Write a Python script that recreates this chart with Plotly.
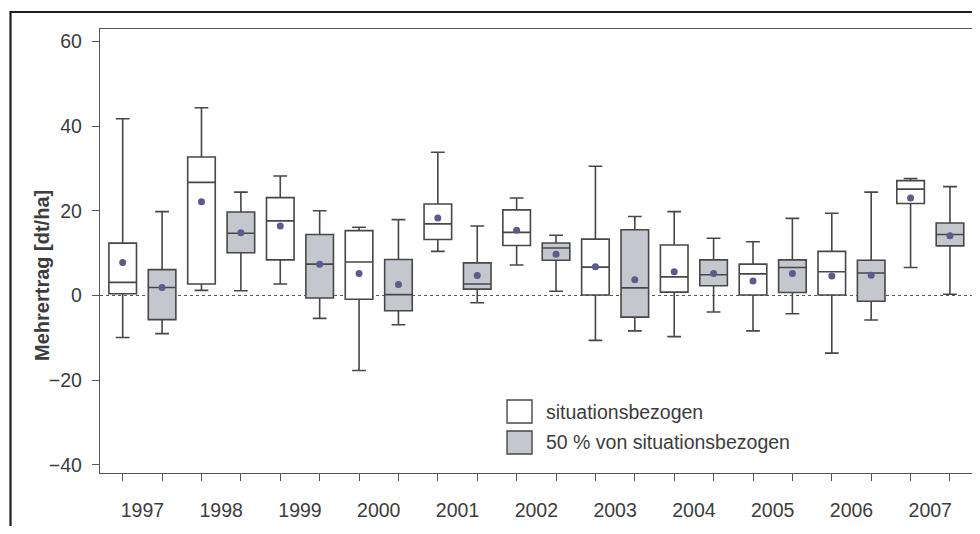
import plotly.graph_objects as go

years = ["1997", "1998", "1999", "2000", "2001", "2002", "2003", "2004", "2005", "2006", "2007"]

# situationsbezogen
sit_low = [-9.9, 1.2, 2.7, -17.7, 10.4, 7.2, -10.6, -9.7, -8.35, -13.6, 6.6]
sit_q1 = [0.4, 2.7, 8.4, -0.9, 13.2, 11.8, 0.1, 0.8, 0.1, 0.1, 21.7]
sit_med = [3.1, 26.7, 17.6, 7.9, 16.9, 14.9, 6.7, 4.4, 5.1, 5.6, 25.1]
sit_q3 = [12.35, 32.7, 23.1, 15.3, 21.6, 20.2, 13.3, 11.9, 7.4, 10.4, 27.1]
sit_high = [41.7, 44.3, 28.2, 16.1, 33.8, 23.0, 30.5, 19.8, 12.7, 19.4, 27.6]
sit_mean = [7.8, 22.1, 16.4, 5.2, 18.3, 15.4, 6.8, 5.6, 3.4, 4.6, 23.0]

# 50 % von situationsbezogen
half_low = [-9.0, 1.1, -5.4, -6.9, -1.7, 1.0, -8.35, -3.9, -4.3, -5.8, 0.3]
half_q1 = [-5.7, 10.1, -0.6, -3.6, 1.5, 8.3, -5.1, 2.3, 0.7, -1.35, 11.7]
half_med = [1.9, 14.7, 7.4, 0.2, 2.7, 11.2, 1.8, 4.9, 6.6, 5.3, 14.4]
half_q3 = [6.1, 19.7, 14.4, 8.5, 7.7, 12.4, 15.5, 8.4, 8.4, 8.3, 17.1]
half_high = [19.8, 24.4, 20.0, 17.9, 16.4, 14.2, 18.65, 13.5, 18.2, 24.4, 25.7]
half_mean = [1.9, 14.8, 7.4, 2.6, 4.7, 9.75, 3.7, 5.2, 5.2, 4.8, 14.1]

series_names = ["situationsbezogen", "50 % von situationsbezogen"]
y_title = "Mehrertrag [dt/ha]"

n = len(years)
x_sit = [2 * i for i in range(n)]
x_half = [2 * i + 1 for i in range(n)]

LINE = "#474747"
FILL = "#c4c7ce"
DOT = "#5b5b8c"
TXT = "#3c3c3c"
FONT = "Liberation Sans, Arial, sans-serif"
FS = 19.5

fig = go.Figure()

for xs, lo, q1, med, q3, hi, fill, name in [
    (x_sit, sit_low, sit_q1, sit_med, sit_q3, sit_high, "white", series_names[0]),
    (x_half, half_low, half_q1, half_med, half_q3, half_high, FILL, series_names[1]),
]:
    fig.add_trace(go.Box(
        x=xs, q1=q1, median=med, q3=q3, lowerfence=lo, upperfence=hi,
        name=name, fillcolor=fill, line=dict(color=LINE, width=1.6),
        width=0.7, whiskerwidth=0.5, boxpoints=False, showlegend=False,
    ))

for xs, mean in [(x_sit, sit_mean), (x_half, half_mean)]:
    fig.add_trace(go.Scatter(
        x=xs, y=mean, mode="markers", showlegend=False,
        marker=dict(color=DOT, size=7, line=dict(width=0)),
    ))

# zero reference line
fig.add_hline(y=0, line=dict(color="#555555", width=1, dash="3px,3px"), layer="below")

shapes = []
# outer frame
shapes.append(dict(type="rect", xref="paper", yref="paper",
                   x0=-0.1024, x1=1.2, y0=-0.5, y1=1.0383,
                   line=dict(color="#1e1e1e", width=2.2), fillcolor="rgba(0,0,0,0)", layer="below"))
# legend squares
shapes.append(dict(type="rect", xref="paper", yref="paper",
                   x0=0.4657, x1=0.4943, y0=0.1126, y1=0.1644,
                   line=dict(color=LINE, width=1.4), fillcolor="white"))
shapes.append(dict(type="rect", xref="paper", yref="paper",
                   x0=0.4657, x1=0.4943, y0=0.0428, y1=0.0946,
                   line=dict(color=LINE, width=1.4), fillcolor=FILL))
for s in shapes:
    fig.add_shape(**s)

fig.add_annotation(xref="paper", yref="paper", x=0.5085, y=0.1385, text=series_names[0],
                   showarrow=False, xanchor="left", yanchor="middle",
                   font=dict(family=FONT, size=FS, color=TXT))
fig.add_annotation(xref="paper", yref="paper", x=0.5085, y=0.0687, text=series_names[1],
                   showarrow=False, xanchor="left", yanchor="middle",
                   font=dict(family=FONT, size=FS, color=TXT))
# y axis title
fig.add_annotation(xref="paper", yref="paper", x=-0.0664, y=0.446, text="<b>" + y_title + "</b>",
                   showarrow=False, xanchor="center", yanchor="middle", textangle=-90,
                   font=dict(family=FONT, size=20, color=TXT))

# The page body has an 8px default margin, so the figure is shrunk by it.
fig.update_layout(
    width=972, height=518,
    margin=dict(l=92, r=6, t=21, b=53),
    paper_bgcolor="white", plot_bgcolor="white",
    boxmode="overlay",
    font=dict(family=FONT, size=FS, color=TXT),
    xaxis=dict(
        range=[-0.576, 21.61],
        tickvals=[2 * i + 0.5 for i in range(n)], ticktext=years,
        ticks="", showgrid=False, zeroline=False,
        showline=True, linecolor="#555555", linewidth=1.4, mirror=True,
        ticklabelstandoff=19, automargin=False,
        minor=dict(tickvals=list(range(2 * n)), ticks="outside", ticklen=7,
                   tickcolor="#555555", tickwidth=1.4, showgrid=False),
    ),
    yaxis=dict(
        range=[-41.9, 62.9],
        tickvals=[-40, -20, 0, 20, 40, 60],
        ticks="outside", ticklen=7, tickcolor="#555555", tickwidth=1.4,
        showgrid=False, zeroline=False,
        showline=True, linecolor="#555555", linewidth=1.4, mirror=True,
        ticklabelstandoff=6, automargin=False,
    ),
)

fig.write_html("out.html")
